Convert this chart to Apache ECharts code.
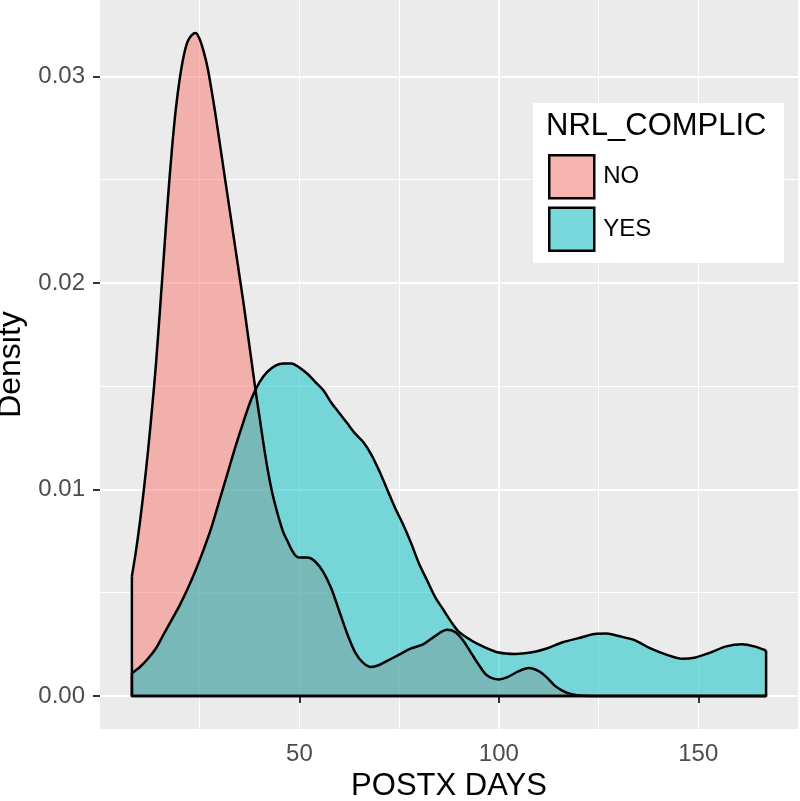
<!DOCTYPE html>
<html>
<head>
<meta charset="utf-8">
<script src="https://cdn.jsdelivr.net/npm/echarts@6/dist/echarts.min.js"></script>
<style>html,body{margin:0;padding:0;background:#fff}#c{width:800px;height:801px}</style>
</head>
<body>
<div id="c"></div>
<script>
// ---- data (density vs POSTX DAYS) ----
var noX  = [8, 9, 10, 11, 12, 13, 14, 15, 16, 17, 18, 19, 20, 21, 22, 23, 24, 25, 26, 27, 28, 29, 30, 31, 32, 33, 34, 35, 36, 37, 38, 39, 40, 41, 42, 43, 44, 45, 46, 47, 48, 49, 50, 52, 54, 56, 58, 60, 62, 64, 66, 68, 70, 72, 75, 78, 81, 84, 87, 89, 91, 93, 95, 97, 100, 102, 105, 107.5, 110, 112, 114, 116, 118, 121, 125, 167];
var noY  = [0.0058, 0.0070, 0.0084, 0.0100, 0.0118, 0.0138, 0.0160, 0.0186, 0.0213, 0.0240, 0.0264, 0.0284, 0.0299, 0.0310, 0.0317, 0.0320, 0.0321, 0.0318, 0.0312, 0.0304, 0.0293, 0.0281, 0.0268, 0.0255, 0.0242, 0.0229, 0.0216, 0.0203, 0.0190, 0.0176, 0.0162, 0.0148, 0.0135, 0.0122, 0.0110, 0.0100, 0.0092, 0.0085, 0.0079, 0.0075, 0.0071, 0.0068, 0.0067, 0.0067, 0.0065, 0.0060, 0.0052, 0.0041, 0.0030, 0.0021, 0.0016, 0.0014, 0.0015, 0.0017, 0.0020, 0.0023, 0.0025, 0.0029, 0.0032, 0.0031, 0.0027, 0.0021, 0.0015, 0.0010, 0.0008, 0.0009, 0.0012, 0.00135, 0.0012, 0.0009, 0.0005, 0.00025, 0.0001, 0.00001, 0, 0];
var yesX = [8, 10, 12, 14, 16, 18, 20, 22, 24, 26, 28, 30, 32, 34, 36, 38, 40, 42, 44, 46, 48, 50, 52, 54, 56, 58, 60, 62, 64, 66, 68, 70, 72, 74, 76, 78, 80, 82, 84, 86, 88, 90, 93, 96, 100, 104, 108, 112, 116, 120, 124, 127, 130, 134, 138, 142, 146, 149, 153, 157, 161, 164, 167];
var yesY = [0.0011, 0.0014, 0.0018, 0.0023, 0.0030, 0.0037, 0.0044, 0.0052, 0.0061, 0.0071, 0.0082, 0.0095, 0.0108, 0.0121, 0.0133, 0.0144, 0.0152, 0.0157, 0.0160, 0.0161, 0.0161, 0.0159, 0.0156, 0.0152, 0.0148, 0.0142, 0.0137, 0.0132, 0.0127, 0.0123, 0.0117, 0.0109, 0.0100, 0.0091, 0.0083, 0.0074, 0.0064, 0.0056, 0.0048, 0.0042, 0.0036, 0.0031, 0.0027, 0.0024, 0.0021, 0.00203, 0.0021, 0.0023, 0.0026, 0.0028, 0.0030, 0.00302, 0.0029, 0.0027, 0.0023, 0.0020, 0.0018, 0.00185, 0.0021, 0.0024, 0.0025, 0.0024, 0.0022];
var groups = ['NO', 'YES'];
var xMajor = [50, 100, 150];
var yMajor = [0, 0.01, 0.02, 0.03];
var yMinor = [0.005, 0.015, 0.025];

function zip(xs, ys) { return xs.map(function (x, i) { return [x, ys[i]]; }); }
function edges(xs, ys) {
  var n = xs.length - 1;
  return [[xs[0], ys[0]], [xs[0], 0], [xs[n], 0], [xs[n], ys[n]]];
}

var FONT = '"Liberation Sans", Arial, Helvetica, sans-serif';
var chart = echarts.init(document.getElementById('c'), null, { renderer: 'canvas' });

function areaSeries(name, xs, ys, color) {
  return {
    name: name, type: 'line', data: zip(xs, ys), smooth: 0.3, symbol: 'none',
    lineStyle: { color: '#000', width: 2.5, join: 'round' },
    areaStyle: { color: color, opacity: 0.5 },
    itemStyle: { color: color },
    silent: true, animation: false
  };
}
function edgeSeries(name, xs, ys) {
  return {
    name: name, type: 'line', data: edges(xs, ys), smooth: false, symbol: 'none',
    lineStyle: { color: '#000', width: 2.5, join: 'round' }, silent: true, animation: false
  };
}

chart.setOption({
  animation: false,
  textStyle: { fontFamily: FONT },
  grid: { left: 100, top: 0, width: 698, height: 729, show: true, backgroundColor: '#EBEBEB', borderWidth: 0,
    outerBoundsMode: 'none', containLabel: false },
  title: {
    text: 'NRL_COMPLIC', left: 546, top: 111, padding: 0, z: 60,
    textStyle: { fontFamily: FONT, fontSize: 31, fontWeight: 'normal', color: '#000' }
  },
  graphic: [{ type: 'rect', left: 533, top: 103, z: 50, shape: { width: 251, height: 160 }, style: { fill: '#fff' } }],
  legend: {
    data: [
      { name: groups[0], itemStyle: { color: '#F5B4AF', borderColor: '#000', borderWidth: 2.5, opacity: 1 } },
      { name: groups[1], itemStyle: { color: '#79D8DB', borderColor: '#000', borderWidth: 2.5, opacity: 1 } }
    ],
    orient: 'vertical', left: 548, top: 154, padding: 0, itemWidth: 45, itemHeight: 43, itemGap: 7,
    icon: 'rect', selectedMode: false, z: 60,
    textStyle: { fontFamily: FONT, fontSize: 24, color: '#000', padding: [0, 0, 0, 4] }
  },
  xAxis: [
    {
      type: 'value', min: 0, max: 175, interval: 25,
      axisLine: { show: false }, axisTick: { show: false }, axisLabel: { show: false },
      splitLine: { show: true, showMinLine: false, showMaxLine: false, lineStyle: { color: '#fff', width: 1 } }
    },
    {
      type: 'value', min: 0, max: 175, interval: 50, position: 'bottom',
      axisLine: { show: false },
      axisTick: { show: true, customValues: xMajor, length: 7, lineStyle: { color: '#333', width: 2 } },
      axisLabel: { customValues: xMajor, margin: 13, fontSize: 24, color: '#4D4D4D', fontFamily: FONT },
      splitLine: { show: true, showMinLine: false, showMaxLine: false, lineStyle: { color: '#fff', width: 2 } },
      name: 'POSTX DAYS', nameLocation: 'middle', nameGap: 41,
      nameTextStyle: { fontSize: 31, color: '#000', fontFamily: FONT }
    }
  ],
  yAxis: [
    {
      type: 'value', min: -0.0016, max: 0.0337,
      axisLine: { show: false },
      axisTick: { show: true, customValues: yMajor, length: 7, lineStyle: { color: '#333', width: 2 } },
      axisLabel: { customValues: yMajor, margin: 15, fontSize: 24, color: '#4D4D4D', fontFamily: FONT,
        formatter: function (v) { return v.toFixed(2); } },
      splitLine: { show: true, lineStyle: { color: '#fff', width: 2 } },
      name: 'Density', nameLocation: 'middle', nameGap: 71,
      nameTextStyle: { fontSize: 32, color: '#000', fontFamily: FONT }
    },
    {
      type: 'value', min: -0.0016, max: 0.0337, position: 'left',
      axisLine: { show: false }, axisTick: { show: false, customValues: yMinor },
      axisLabel: { show: false, customValues: yMinor },
      splitLine: { show: true, lineStyle: { color: '#fff', width: 1 } }
    }
  ],
  series: [
    areaSeries(groups[0], noX, noY, '#F8766D'),
    edgeSeries('NO edges', noX, noY),
    areaSeries(groups[1], yesX, yesY, '#00BFC4'),
    edgeSeries('YES edges', yesX, yesY)
  ]
});
</script>
</body>
</html>
